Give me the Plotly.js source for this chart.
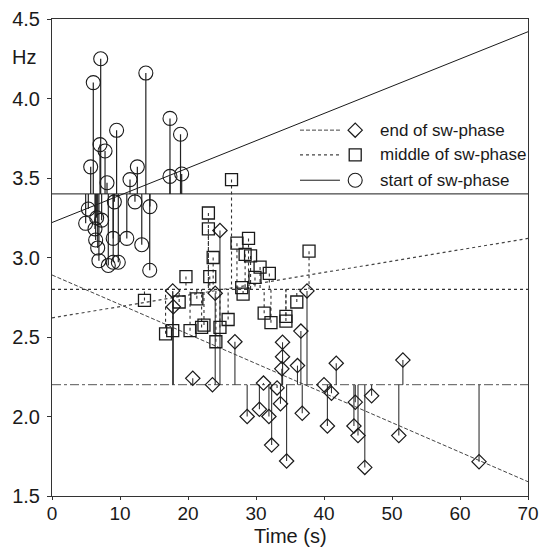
<!DOCTYPE html>
<html><head><meta charset="utf-8">
<script src="https://cdn.plot.ly/plotly-3.0.1.min.js"></script>
<style>html,body{margin:0;padding:0;background:#fff}</style>
</head><body><div id="chart" style="width:540px;height:548px"></div>
<script>
// ---- data ----
const seriesNames = ['end of sw-phase', 'middle of sw-phase', 'start of sw-phase'];

const endT = [17.75, 17.84, 24.0, 24.7, 26.9, 20.7, 23.6, 28.7, 33.9, 33.9, 33.8, 36.6, 36.1, 37.5, 41.8, 31.1, 33.1, 33.6, 30.5, 31.9, 36.8, 32.3, 40.0, 41.1, 44.6, 47.0, 40.5, 44.4, 45.0, 51.0, 51.6, 62.8, 34.5, 46.0];
const endV = [2.79, 2.69, 2.775, 3.17, 2.47, 2.24, 2.20, 2.00, 2.467, 2.376, 2.30, 2.537, 2.32, 2.79, 2.335, 2.21, 2.18, 2.08, 2.045, 2.00, 2.02, 1.82, 2.20, 2.146, 2.09, 2.13, 1.94, 1.94, 1.88, 1.88, 2.355, 1.716, 1.72, 1.68];

const midT = [13.6, 17.75, 16.7, 18.7, 19.7, 21.3, 20.3, 22.0, 22.35, 23.2, 23.0, 23.0, 23.7, 24.7, 24.1, 25.9, 26.4, 27.2, 28.9, 28.4, 29.2, 30.6, 31.96, 29.85, 37.8, 27.9, 28.1, 36.0, 31.2, 32.2, 34.4, 34.4];
const midV = [2.73, 2.54, 2.52, 2.72, 2.88, 2.74, 2.54, 2.56, 2.575, 2.88, 3.28, 3.18, 3.00, 2.56, 2.47, 2.61, 3.49, 3.09, 3.12, 3.02, 3.01, 2.94, 2.90, 2.875, 3.04, 2.81, 2.77, 2.72, 2.65, 2.59, 2.60, 2.63];

const startT = [7.16, 6.07, 13.8, 17.35, 18.9, 9.5, 7.06, 7.8, 5.69, 12.55, 11.47, 8.09, 17.35, 19.07, 5.34, 9.17, 12.2, 14.4, 4.95, 6.57, 7.3, 6.32, 6.42, 6.72, 9.0, 11.0, 13.2, 6.9, 8.28, 9.0, 9.75, 14.37];
const startV = [4.25, 4.10, 4.16, 3.875, 3.775, 3.80, 3.71, 3.67, 3.57, 3.57, 3.49, 3.47, 3.51, 3.525, 3.305, 3.35, 3.35, 3.32, 3.215, 3.25, 3.235, 3.18, 3.11, 3.06, 3.12, 3.12, 3.08, 2.98, 2.95, 2.97, 2.97, 2.92];

const baseEnd = 2.2, baseMid = 2.8, baseStart = 3.4;
const fitX = [0, 70];
const endFit = [2.89, 1.59];
const midFit = [2.62, 3.12];
const startFit = [3.22, 4.42];

const xTicks = [0, 10, 20, 30, 40, 50, 60, 70];
const yTicks = [1.5, 2.0, 2.5, 3.0, 3.5, 4.0, 4.5];

// ---- helpers ----
function stems(ts, vs, base) {
  const x = [], y = [];
  ts.forEach((t, i) => { x.push(t, t, null); y.push(vs[i], base, null); });
  return {x, y};
}
const FONT = 'Liberation Sans, Arial, sans-serif';
const ink = '#1a1a1a';

const sE = stems(endT, endV, baseEnd);
const sM = stems(midT, midV, baseMid);
const sS = stems(startT, startV, baseStart);

const traces = [
  // baselines
  {x: fitX, y: [baseEnd, baseEnd], mode: 'lines', line: {color: '#555', width: 1, dash: 'dashdot'}, hoverinfo: 'skip'},
  {x: fitX, y: [baseMid, baseMid], mode: 'lines', line: {color: '#333', width: 1.2, dash: 'dot'}, hoverinfo: 'skip'},
  {x: fitX, y: [baseStart, baseStart], mode: 'lines', line: {color: ink, width: 1}, hoverinfo: 'skip'},
  // fits
  {x: fitX, y: endFit, mode: 'lines', line: {color: '#444', width: 1, dash: '4px,2px'}, hoverinfo: 'skip'},
  {x: fitX, y: midFit, mode: 'lines', line: {color: '#444', width: 1.2, dash: 'dot'}, hoverinfo: 'skip'},
  {x: fitX, y: startFit, mode: 'lines', line: {color: ink, width: 1}, hoverinfo: 'skip'},
  // stems
  {x: sE.x, y: sE.y, mode: 'lines', line: {color: '#333', width: 1.1}, hoverinfo: 'skip'},
  {x: sM.x, y: sM.y, mode: 'lines', line: {color: '#333', width: 1.1, dash: 'dot'}, hoverinfo: 'skip'},
  {x: sS.x, y: sS.y, mode: 'lines', line: {color: '#222', width: 1.2}, hoverinfo: 'skip'},
  // markers
  {x: endT, y: endV, mode: 'markers', name: seriesNames[0], marker: {symbol: 'diamond-open', size: 11, color: ink, line: {width: 1.2, color: ink}}},
  {x: midT, y: midV, mode: 'markers', name: seriesNames[1], marker: {symbol: 'square-open', size: 12, color: ink, line: {width: 1.3, color: ink}}},
  {x: startT, y: startV, mode: 'markers', name: seriesNames[2], marker: {symbol: 'circle-open', size: 14, color: ink, line: {width: 1.1, color: ink}}},
  // custom legend (overlay axes 0..1)
  {x: [0.521, 0.605], y: [0.767, 0.767], xaxis: 'x2', yaxis: 'y2', mode: 'lines', line: {color: '#444', width: 1, dash: '4px,2px'}, hoverinfo: 'skip'},
  {x: [0.521, 0.605], y: [0.715, 0.715], xaxis: 'x2', yaxis: 'y2', mode: 'lines', line: {color: '#444', width: 1.2, dash: 'dot'}, hoverinfo: 'skip'},
  {x: [0.521, 0.605], y: [0.662, 0.662], xaxis: 'x2', yaxis: 'y2', mode: 'lines', line: {color: ink, width: 1}, hoverinfo: 'skip'},
  {x: [0.637], y: [0.767], xaxis: 'x2', yaxis: 'y2', mode: 'markers', marker: {symbol: 'diamond-open', size: 11, color: ink, line: {width: 1.2}}, hoverinfo: 'skip'},
  {x: [0.637], y: [0.715], xaxis: 'x2', yaxis: 'y2', mode: 'markers', marker: {symbol: 'square-open', size: 12, color: ink, line: {width: 1.3}}, hoverinfo: 'skip'},
  {x: [0.637], y: [0.662], xaxis: 'x2', yaxis: 'y2', mode: 'markers', marker: {symbol: 'circle-open', size: 14, color: ink, line: {width: 1.1}}, hoverinfo: 'skip'}
];

const legY = [0.767, 0.715, 0.662];
const annotations = seriesNames.map((n, i) => ({
  text: n, xref: 'paper', yref: 'paper', x: 0.685, y: legY[i], xanchor: 'left', yanchor: 'middle',
  showarrow: false, font: {family: FONT, size: 17, color: ink}
}));
annotations.push({text: 'Hz', xref: 'paper', yref: 'paper', x: -0.029, y: 0.92, xanchor: 'right', yanchor: 'middle',
  showarrow: false, font: {family: FONT, size: 20, color: ink}});
annotations.push({text: 'Time (s)', xref: 'paper', yref: 'paper', x: 0.5, y: -0.083, xanchor: 'center', yanchor: 'middle',
  showarrow: false, font: {family: FONT, size: 20, color: ink}});

const layout = {
  width: 540, height: 548,
  margin: {l: 52, r: 12, t: 19, b: 52},
  paper_bgcolor: '#fff', plot_bgcolor: '#fff',
  showlegend: false,
  font: {family: FONT, color: ink},
  xaxis: {
    range: [0, 70], tickvals: xTicks, ticktext: xTicks.map(String),
    showgrid: false, zeroline: false, showline: true, linecolor: '#333', linewidth: 1, mirror: true,
    ticks: 'outside', ticklen: 3, tickcolor: '#333', ticklabelstandoff: -3,
    tickfont: {family: FONT, size: 19, color: ink}
  },
  yaxis: {
    range: [1.5, 4.5], tickvals: yTicks, ticktext: yTicks.map(v => v.toFixed(1)),
    showgrid: false, zeroline: false, showline: true, linecolor: '#333', linewidth: 1, mirror: true,
    ticks: 'outside', ticklen: 4, tickcolor: '#333', ticklabelstandoff: 3,
    tickfont: {family: FONT, size: 20, color: ink}
  },
  xaxis2: {overlaying: 'x', anchor: 'y2', range: [0, 1], visible: false, fixedrange: true},
  yaxis2: {overlaying: 'y', anchor: 'x2', range: [0, 1], visible: false, fixedrange: true},
  annotations: annotations
};

Plotly.newPlot('chart', traces, layout, {displayModeBar: false, staticPlot: true});
</script></body></html>
